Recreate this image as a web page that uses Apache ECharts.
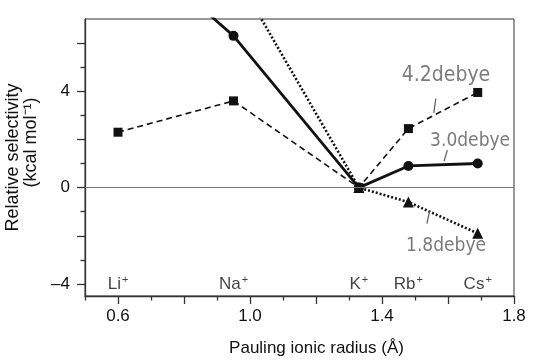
<!DOCTYPE html>
<html>
<head>
<meta charset="utf-8">
<script src="https://cdn.jsdelivr.net/npm/echarts@6/dist/echarts.min.js"></script>
<style>
  html, body { margin: 0; padding: 0; background: #fff; }
  #chart { width: 533px; height: 360px; }
</style>
</head>
<body>
<div id="chart"></div>
<script>
// ionic radii (Å) and ion names
const ionX = [0.60, 0.95, 1.33, 1.48, 1.69]
const ionNames = ['Li', 'Na', 'K', 'Rb', 'Cs']

// relative selectivity (kcal/mol)
const dipole42 = [2.3, 3.6, 0, 2.45, 3.95]     // squares, dashed
const dipole30 = [10.5, 6.3, 0, 0.9, 1.0]      // circles, solid
const dipole18 = [null, 9.0, 0, -0.6, -1.9]    // triangles, dotted

// hand written notes
const noteText = ['4.2debye', '3.0debye', '1.8debye']
const noteX = [1.594, 1.667, 1.594]
const noteY = [4.67, 1.92, -2.42]
const noteSize = [21, 19, 19]
const noteLines = [
  [[1.563, 3.7], [1.557, 3.1]],
  [[1.598, 1.55], [1.588, 1.1]],
  [[1.545, -0.95], [1.536, -1.5]]
]

// ticks and labels
const yMajor = [-4, -2, 0, 2, 4, 6]
const yMinor = [-3, -1, 1, 3, 5]
const yLabels = [-4, 0, 4]
const xMajor = [0.6, 0.8, 1.0, 1.2, 1.4, 1.6, 1.8]
const xMinor = [0.5, 0.7, 0.9, 1.1, 1.3, 1.5, 1.7]
const xLabels = [0.6, 1.0, 1.4, 1.8]
const labelRow = -4

function pairs (ys) {
  return ionX.map((x, i) => ys[i] == null ? null : [x, ys[i]]).filter(p => p)
}

const ink = '#111'
const font = 'Liberation Sans'
const axisColor = '#333'

const myChart = echarts.init(document.getElementById('chart'))
myChart.setOption({
  animation: false,
  textStyle: { fontFamily: font },
  grid: {
    left: 85,
    right: 19,
    top: 19,
    bottom: 64,
    outerBoundsMode: 'none',
    containLabel: false,
    show: true,
    borderColor: axisColor,
    borderWidth: 1
  },
  xAxis: [
    {
      type: 'value',
      min: 0.5,
      max: 1.8,
      name: 'Pauling ionic radius (Å)',
      nameLocation: 'middle',
      nameGap: 44,
      nameTextStyle: { fontSize: 17, color: ink, fontFamily: font, padding: [0, 0, 0, 34] },
      axisLine: { onZero: false, lineStyle: { color: axisColor, width: 1.3 } },
      axisTick: { customValues: xMajor, length: 8, lineStyle: { color: axisColor, width: 1.3 } },
      axisLabel: {
        customValues: xLabels,
        fontSize: 17,
        color: ink,
        margin: 12,
        formatter: v => v.toFixed(1)
      },
      splitLine: { show: false }
    },
    {
      type: 'value',
      position: 'bottom',
      min: 0.5,
      max: 1.8,
      axisLine: { show: false, onZero: false },
      axisTick: { customValues: xMinor, length: 4.5, lineStyle: { color: axisColor, width: 1.3 } },
      axisLabel: { show: false },
      splitLine: { show: false }
    }
  ],
  yAxis: [
    {
      type: 'value',
      min: -4.5,
      max: 7,
      name: '{a|Relative selectivity}\n{b|(kcal mol⁻¹)}',
      nameLocation: 'middle',
      nameGap: 43,
      nameTextStyle: {
        color: ink,
        fontFamily: font,
        rich: {
          a: { fontSize: 18, lineHeight: 18, color: ink, fontFamily: font },
          b: { fontSize: 18, lineHeight: 18, color: ink, fontFamily: font, padding: [0, 0, 0, 30] }
        }
      },
      axisLine: { lineStyle: { color: axisColor, width: 1.3 } },
      axisTick: { customValues: yMajor, length: 8, lineStyle: { color: axisColor, width: 1.3 } },
      axisLabel: {
        customValues: yLabels,
        fontSize: 17,
        color: ink,
        margin: 15,
        formatter: v => v < 0 ? '\u2013' + Math.abs(v) : String(v)
      },
      splitLine: { show: false }
    },
    {
      type: 'value',
      position: 'left',
      min: -4.5,
      max: 7,
      axisLine: { show: false },
      axisTick: { customValues: yMinor, length: 4.5, lineStyle: { color: axisColor, width: 1.3 } },
      axisLabel: { show: false },
      splitLine: { show: false }
    }
  ],
  series: [
    {
      name: 'zero',
      type: 'line',
      data: [],
      markLine: {
        silent: true,
        symbol: 'none',
        label: { show: false },
        lineStyle: { color: '#777', width: 1, type: 'solid' },
        data: [{ yAxis: 0 }]
      }
    },
    {
      name: '4.2 debye',
      type: 'line',
      data: pairs(dipole42),
      symbol: 'rect',
      symbolSize: 9,
      itemStyle: { color: ink },
      lineStyle: { color: ink, width: 1.6, type: [6, 4] },
      z: 3
    },
    {
      name: '3.0 debye',
      type: 'line',
      data: pairs(dipole30),
      symbol: 'circle',
      symbolSize: 10,
      itemStyle: { color: ink },
      lineStyle: { color: ink, width: 2.8 },
      z: 3
    },
    {
      name: '1.8 debye',
      type: 'line',
      data: pairs(dipole18),
      symbol: 'triangle',
      symbolSize: 11,
      itemStyle: { color: ink },
      lineStyle: { color: ink, width: 2.6, type: [2, 2] },
      z: 3
    },
    {
      name: 'ions',
      type: 'scatter',
      symbolSize: 0,
      silent: true,
      data: ionX.map((x, i) => ({ value: [x, labelRow], name: ionNames[i] })),
      label: {
        show: true,
        position: 'inside',
        formatter: p => '{a|' + p.name + '}{s|+}',
        rich: {
          a: { fontSize: 17, color: ink, fontFamily: font },
          s: { fontSize: 11, color: ink, fontFamily: font, padding: [0, 0, 7, 1] }
        }
      }
    },
    {
      name: 'notes',
      type: 'scatter',
      symbolSize: 0,
      silent: true,
      data: noteX.map((x, i) => ({
        value: [x, noteY[i]],
        name: noteText[i],
        label: { fontSize: noteSize[i] }
      })),
      label: {
        show: true,
        position: 'inside',
        formatter: p => p.name,
        fontFamily: 'DejaVu Sans Condensed',
        color: '#5a5a5a'
      },
      markLine: {
        silent: true,
        symbol: 'none',
        label: { show: false },
        lineStyle: { color: '#5a5a5a', width: 1.2, type: 'solid' },
        data: noteLines.map(seg => [{ coord: seg[0] }, { coord: seg[1] }])
      }
    }
  ]
})
window.addEventListener('resize', () => {
  myChart.resize()
})
</script>
</body>
</html>
